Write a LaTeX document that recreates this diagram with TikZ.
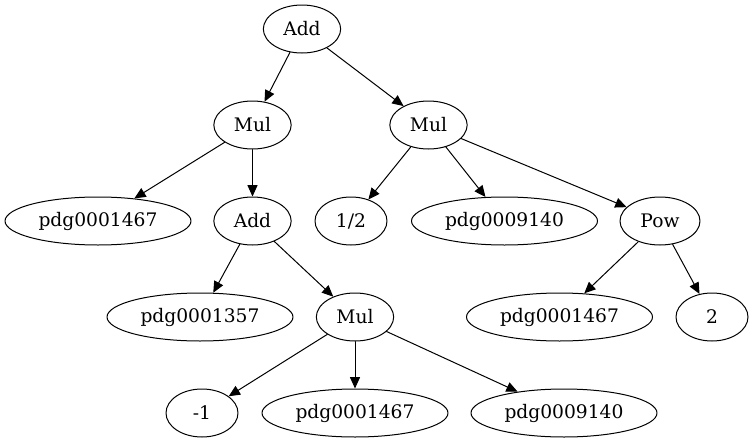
\documentclass[tikz,border=0pt]{standalone}
\usepackage{fontspec}
\setmainfont{DejaVu Serif}
\usetikzlibrary{shapes.geometric,arrows.meta}
\begin{document}
\begin{tikzpicture}[x=0.75pt, y=-0.75pt, line cap=round, line join=round, font=\fontsize{14pt}{16pt}\selectfont, >={Triangle[length=8.5pt,width=7.5pt]}, line width=0.75pt]
			\tikzset{op/.style={ellipse, draw, inner sep=0pt, minimum height=36pt, minimum width=58pt},
				num/.style={ellipse, draw, inner sep=0pt, minimum height=36pt, minimum width=54pt},
				sym/.style={ellipse, draw, inner sep=0pt, minimum height=36pt, minimum width=139.5pt}}
			\useasboundingbox (0,0) rectangle (754,443);
			% first rows
			\node[op] (add) at (302,29) {Add};
			\node[op] (mulL) at (252.5,125) {Mul};
			\node[op] (mulR) at (428.5,125) {Mul};
			\node[sym] (pdgA) at (98,221) {pdg0001467};
			\node[op] (addL) at (252.5,221) {Add};
			\node[num] (half) at (351,221) {1/2};
			\node[sym] (pdgB) at (504.5,221) {pdg0009140};
			\node[op, minimum width=60pt] (pow) at (660,221) {Pow};
			% lower rows
			\node[sym] (pdgC) at (200,317) {pdg0001357};
			\node[op] (mulB) at (355,317) {Mul};
			\node[sym] (pdgD) at (559.5,317) {pdg0001467};
			\node[num] (two) at (712,317) {2};
			\node[num] (neg) at (202,413) {-1};
			\node[sym] (pdgE) at (355,413) {pdg0001467};
			\node[sym] (pdgF) at (564,413) {pdg0009140};
			% edges
			\draw[->] (add)--(mulL);
			\draw[->] (add)--(mulR);
			\draw[->] (mulL)--(pdgA);
			\draw[->] (mulL)--(addL);
			\draw[->] (mulR)--(half);
			\draw[->] (mulR)--(pdgB);
			\draw[->] (mulR)--(pow);
			\draw[->] (addL)--(pdgC);
			\draw[->] (addL)--(mulB);
			\draw[->] (pow)--(pdgD);
			\draw[->] (pow)--(two);
			\draw[->] (mulB)--(neg);
			\draw[->] (mulB)--(pdgE);
			\draw[->] (mulB)--(pdgF);
		\end{tikzpicture}
\end{document}
